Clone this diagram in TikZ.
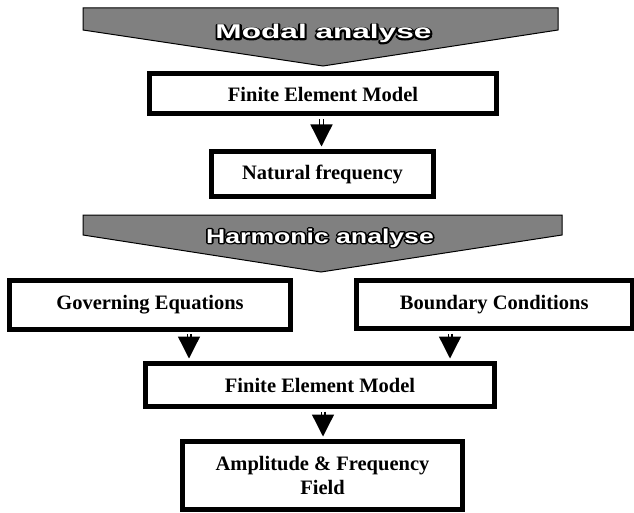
\documentclass[tikz,border=0pt]{standalone}
\usepackage{fontspec}
\setmainfont{Liberation Serif}
\newfontfamily\bannerfont{Liberation Sans}
\usetikzlibrary{arrows.meta,calc}
\definecolor{bannergray}{RGB}{128,128,128}
\tikzset{
  box/.style={draw=black, line width=5pt, fill=white, align=center, inner sep=0pt,
    font=\fontsize{20.5}{24}\selectfont\bfseries},
  flow/.style={draw=black, double=white, double distance=2.4pt, line width=1.3pt,
    shorten <=2.5pt, shorten >=2.5pt, -{Triangle[width=22pt,length=22pt]}},
  banner/.style={draw=black, line width=1pt, fill=bannergray},
  bantext/.style={anchor=base, inner sep=0pt, font=\fontsize{20}{24}\selectfont\bannerfont\bfseries},
}
\newcommand{\strokeonly}[1]{\special{pdf:literal direct 1 Tr 2.6 w 1 j}#1\special{pdf:literal direct 0 Tr}}
\newcommand{\outlinedtext}[4]{% name, position, xscale, text
  \node[bantext, text=black, xscale=#3] at (#2) {\strokeonly{#4}};
  \node[bantext, text=white, xscale=#3] (#1) at (#2) {#4};
}
\begin{document}
\begin{tikzpicture}[x=1pt, y=-1pt]
\useasboundingbox (0,0) rectangle (634,513);

% banners
\draw[banner] (83,8) -- (558,8) -- (558,30) -- (323,66) -- (83,30) -- cycle;
\draw[banner] (83,215) -- (562,215) -- (562,235) -- (321,272) -- (83,235) -- cycle;
\coordinate (t1) at (323.5,39);
\coordinate (t2) at (320,243);
\outlinedtext{modal}{t1}{1.58}{Modal analyse}
\outlinedtext{harm}{t2}{1.33}{Harmonic analyse}

% boxes
\node[box, minimum width=347pt, minimum height=40pt] (fem1) at (323,94) {Finite Element Model};
\node[box, minimum width=222pt, minimum height=45pt] (nf) at (322.5,174) {Natural frequency};
\node[box, minimum width=281pt, minimum height=48.5pt] (ge) at (150,304.75) {Governing Equations};
\node[box, minimum width=275.5pt, minimum height=48pt] (bc) at (494.25,304.5) {Boundary Conditions};
\node[box, minimum width=349pt, minimum height=43pt] (fem2) at (320,385) {Finite Element Model};
\node[box, minimum width=280pt, minimum height=68pt] (amp) at (322.5,475.5) {Amplitude \& Frequency\\Field};

% arrow columns
\coordinate (c1) at (321.5,0);
\coordinate (c2) at (189,0);
\coordinate (c3) at (450,0);
\coordinate (c4) at (323,0);

\draw[flow] (fem1.south -| c1) -- (nf.north -| c1);
\draw[flow] (ge.south -| c2) -- (fem2.north -| c2);
\draw[flow] (bc.south -| c3) -- (fem2.north -| c3);
\draw[flow] (fem2.south -| c4) -- (amp.north -| c4);
\end{tikzpicture}
\end{document}
